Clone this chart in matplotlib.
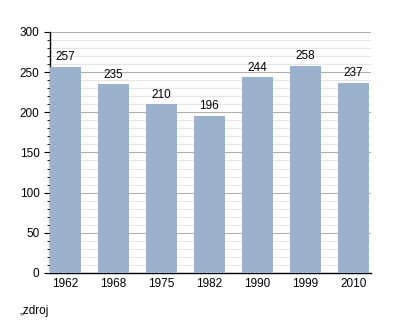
import matplotlib.pyplot as plt
from matplotlib.ticker import MultipleLocator

plt.rcParams['font.family'] = ['Liberation Sans', 'DejaVu Sans']

years = ['1962', '1968', '1975', '1982', '1990', '1999', '2010']
population = [257, 235, 210, 196, 244, 258, 237]

fig = plt.figure(figsize=(4.0, 3.23), dpi=100)
ax = fig.add_axes([0.125, 0.155, 0.8025, 0.746])

x = range(len(years))
ax.bar(x, population, width=0.645, color='#9ab2cb', zorder=3)
for xi, v in zip(x, population):
    ax.text(xi, v + 4, str(v), ha='center', va='bottom', fontsize=8.5, zorder=4)

ax.set_ylim(0, 300)
ax.set_xlim(-0.3225, 6.37)
ax.yaxis.set_major_locator(MultipleLocator(50))
ax.yaxis.set_minor_locator(MultipleLocator(10))
ax.grid(which='major', axis='y', color='#b0b0b0', linewidth=0.8, zorder=0)
ax.grid(which='minor', axis='y', color='#e6e6e6', linewidth=0.8, zorder=0)
ax.set_xticks(list(x))
ax.set_xticklabels(years)
ax.tick_params(axis='x', length=0, labelsize=8.5, pad=4)
ax.tick_params(axis='y', which='major', length=4, labelsize=8.5)
ax.tick_params(axis='y', which='minor', length=2.5)
for s in ['top', 'right']:
    ax.spines[s].set_visible(False)
ax.spines['left'].set_linewidth(1.0)
ax.spines['bottom'].set_linewidth(1.0)

fig.text(0.05, 0.02, '„zdroj', fontsize=8.5, ha='left', va='bottom')

fig.savefig('out.png', dpi=100)
